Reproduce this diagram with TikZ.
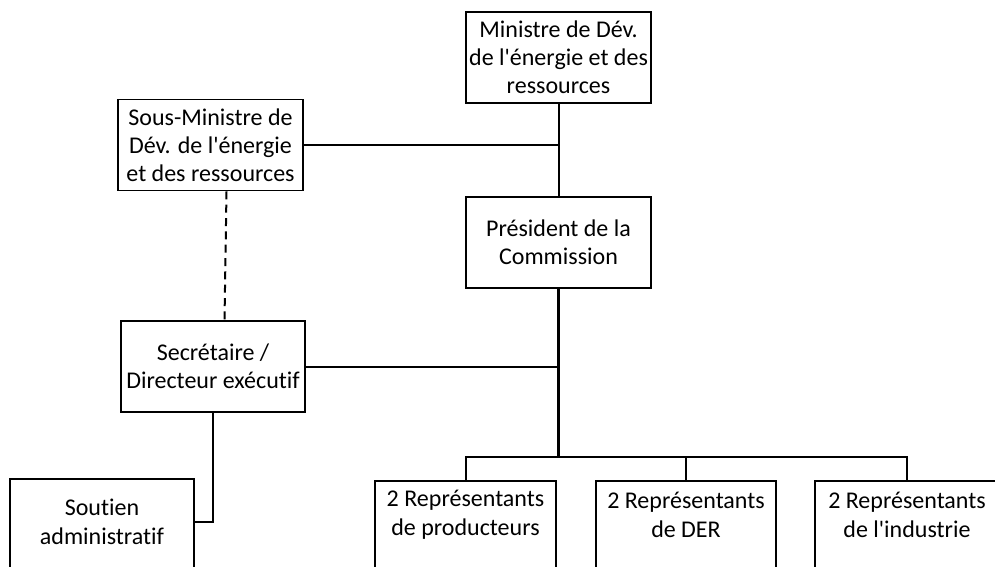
\documentclass[tikz,border=0pt]{standalone}
\usepackage{fontspec}
\setmainfont[Ligatures=NoCommon]{Carlito}
\newcommand{\apo}{\textquotesingle}
\begin{document}
\begin{tikzpicture}[x=0.75pt,y=-0.75pt,
  box/.style={draw,line width=1.3pt,rectangle,align=center,inner sep=0.5pt,
    font=\fontsize{18}{21}\selectfont},
  lbl/.style={align=center,inner sep=0pt,font=\fontsize{18}{22}\selectfont},
  conn/.style={line width=1.5pt},
  trunk/.style={line width=2.2pt}]
\clip (0,0) rectangle (995,567);
\fill[white] (0,0) rectangle (995,567);
\node[box,minimum width=185*0.75pt,minimum height=91*0.75pt] (min) at (558.5,57.5) {Ministre de Dév.\\de l\apo énergie et des\\ressources};
\node[box,minimum width=185*0.75pt,minimum height=91*0.75pt] (smin) at (210.5,145) {Sous-Ministre de\\Dév. de l\apo énergie\\et des ressources};
\node[box,minimum width=185*0.75pt,minimum height=91*0.75pt] (pres) at (558.5,242.5) {Président de la\\Commission};
\node[box,minimum width=184*0.75pt,minimum height=91*0.75pt] (sec) at (213,366.5) {Secrétaire /\\Directeur exécutif};
% boxes cut by the bottom edge
\node[box,minimum width=184*0.75pt,minimum height=100*0.75pt,anchor=north] (sout) at (102,478) {};
\node[lbl] (soutt) at (102,522) {Soutien\\administratif};
\node[box,minimum width=181*0.75pt,minimum height=100*0.75pt,anchor=north] (r1) at (465.5,480) {};
\node[lbl] (r1t) at (465.5,515) {2 Représentants\\de producteurs};
\node[box,minimum width=180*0.75pt,minimum height=100*0.75pt,anchor=north] (r2) at (686,480) {};
\node[lbl] (r2t) at (686,515) {2 Représentants\\de DER};
\node[box,minimum width=184*0.75pt,minimum height=100*0.75pt,anchor=north] (r3) at (907,480) {};
\node[lbl] (r3t) at (907,515) {2 Représentants\\de l\apo industrie};
\coordinate (bus) at (558.5,457);
% connectors
\draw[conn] (min.south) -- (pres.north);
\draw[conn] (smin.east) -- (smin.east -| min.south);
\draw[trunk] (pres.south) -- (bus);
\draw[conn] (sec.east) -- (sec.east -| pres.south);
\draw[conn] (r1.north) |- (bus) -| (r3.north);
\draw[conn] (r2.north) -- (r2.north |- bus);
\draw[conn,dash pattern=on 6pt off 4pt] ([xshift=16*0.75pt]smin.south) -- ([xshift=14*0.75pt]smin.south |- sec.north);
\draw[conn] (sec.south) |- (sout.east |- 0,522);
\end{tikzpicture}
\end{document}
